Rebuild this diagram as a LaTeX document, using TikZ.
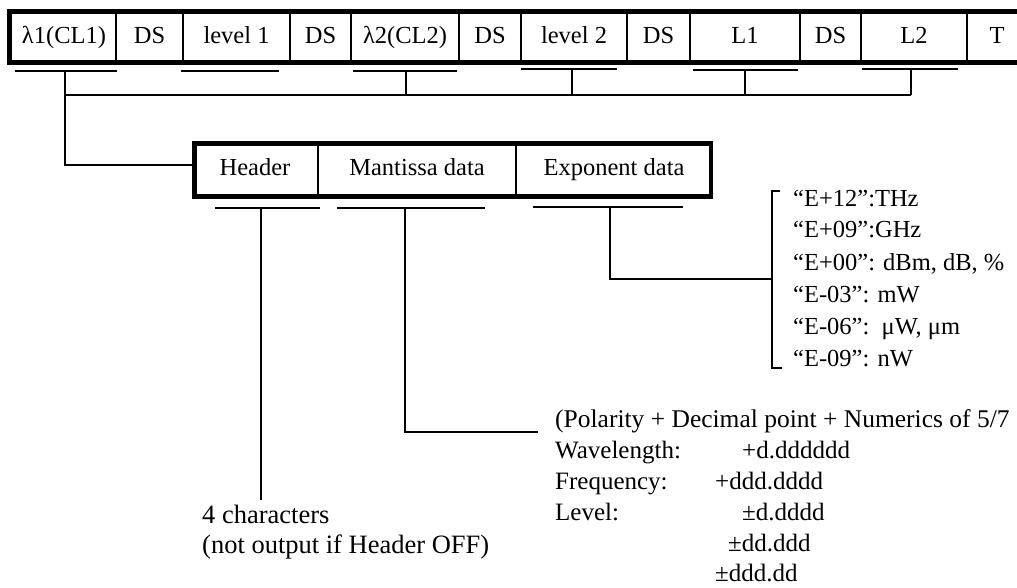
\documentclass[tikz,border=0pt]{standalone}
\usepackage{fontspec}
\setmainfont{Liberation Serif}
\begin{document}
\begin{tikzpicture}[x=1pt,y=-1pt,
  lbl/.style={inner sep=0pt, anchor=base, font=\fontsize{24.5}{28}\selectfont},
  lblw/.style={lbl, anchor=base west},
  mant/.style={lblw, font=\fontsize{25}{28}\selectfont},
  note/.style={lblw, font=\fontsize{26.5}{30}\selectfont},
  frame/.style={line width=4.5pt},
  thinline/.style={line width=1.3pt},
  uline/.style={line width=1.4pt},
  conn/.style={line width=1.3pt}]
\useasboundingbox (0,0) rectangle (1017,587);
\begin{scope}
\clip (0,0) rectangle (1017,587);
% ---------- top record ----------
\draw[frame] (9.5,11.5) rectangle (1045,62.5);
\foreach \xx in {116,183,290,351,459,521,627,690,800,861,967}
  \draw[thinline] (\xx,12) -- (\xx,62);
\node[lbl] (c1)  at (64,43)    {λ1(CL1)};
\node[lbl] (c2)  at (149.5,43) {DS};
\node[lbl] (c3)  at (236.5,43) {level 1};
\node[lbl] (c4)  at (320.5,43) {DS};
\node[lbl] (c5)  at (405,43)   {λ2(CL2)};
\node[lbl] (c6)  at (490,43)   {DS};
\node[lbl] (c7)  at (574,43)   {level 2};
\node[lbl] (c8)  at (658.5,43) {DS};
\node[lbl] (c9)  at (745,43)   {L1};
\node[lbl] (c10) at (830.5,43) {DS};
\node[lbl] (c11) at (914,43)   {L2};
\node[lbl] (c12) at (997,43)   {T};
% underlines of the top record
\coordinate (u1a) at (15,71);  \coordinate (u1b) at (117,71);
\coordinate (u3a) at (181,71); \coordinate (u3b) at (279,71);
\coordinate (u5a) at (353,71); \coordinate (u5b) at (457,71);
\coordinate (u7a) at (521,69); \coordinate (u7b) at (617,69);
\coordinate (u9a) at (693,70); \coordinate (u9b) at (798,70);
\coordinate (u11a) at (862,69); \coordinate (u11b) at (958,69);
\foreach \p in {1,3,5,7,9,11} \draw[uline] (u\p a) -- (u\p b);
% bus
\coordinate (t1) at (65,71);
\coordinate (t5) at (406,71);
\coordinate (t7) at (572,69);
\coordinate (t9) at (745,70);
\coordinate (t11) at (911,69);
\coordinate (busL) at (65,95);
\coordinate (busR) at (911,95);
\draw[conn] (busL) -- (busR);
\foreach \p in {5,7,9,11} \draw[conn] (t\p) -- (t\p |- busL);
% ---------- data record ----------
\draw[frame] (194.5,143.5) rectangle (711,196.5);
\draw[thinline] (318,145) -- (318,195);
\draw[thinline] (516,145) -- (516,195);
\node[lbl] (hd) at (255,175) {Header};
\node[lbl] (md) at (417,175) {Mantissa data};
\node[lbl] (ed) at (614,175) {Exponent data};
\coordinate (boxW) at (192,165);
\draw[conn] (t1) |- (boxW);
% underlines of data record
\coordinate (h1) at (215,208); \coordinate (h2) at (320,208);
\coordinate (m1) at (337,208); \coordinate (m2) at (485,208);
\coordinate (e1) at (533,207); \coordinate (e2) at (683,207);
\draw[uline] (h1) -- (h2);
\draw[uline] (m1) -- (m2);
\draw[uline] (e1) -- (e2);
% header leader
\coordinate (hT) at (261,208);
\coordinate (hB) at (261,500);
\draw[conn] (hT) -- (hB);
\node[note] (hx1) at (202,523) {4 characters};
\node[note] (hx2) at (202,553) {(not output if Header OFF)};
% mantissa leader
\coordinate (mT) at (405,208);
\coordinate (mE) at (538,432);
\draw[conn] (mT) |- (mE);
\node[mant, font=\fontsize{25.5}{28}\selectfont] (mx0) at (555,427) {(Polarity + Decimal point + Numerics of 5/7};
\node[mant] (mx1) at (555,458) {Wavelength:};
\node[mant] (mv1) at (742,458) {+d.dddddd};
\node[mant] (mv2) at (715,489) {+ddd.dddd};
\node[mant] (mx2) at (555,489) {Frequency:};
\node[mant] (mx3) at (555,520) {Level:};
\node[mant] (mv3) at (742,520) {±d.dddd};
\node[mant] (mv4) at (728,551) {±dd.ddd};
\node[mant] (mv5) at (715,581) {±ddd.dd};
% exponent leader and bracket
\coordinate (eT) at (610,207);
\coordinate (eE) at (772,279);
\draw[conn] (eT) |- (eE);
\coordinate (brT) at (780,191);
\coordinate (brB) at (782,368);
\draw[conn] (brT) -- (772,191) -- (772,368) -- (brB);
\node[lblw] (ex1) at (793,206) {“E+12”:THz};
\node[lblw] (ex2) at (793,237) {“E+09”:GHz};
\node[lblw] (ex3) at (793,270) {“E+00”: dBm, dB, \%};
\node[lblw] (ex4) at (793,302) {“E-03”: mW};
\node[lblw] (ex5) at (793,334) {“E-06”:\ \ μW, μm};
\node[lblw] (ex6) at (793,366) {“E-09”: nW};
\end{scope}
\end{tikzpicture}
\end{document}
